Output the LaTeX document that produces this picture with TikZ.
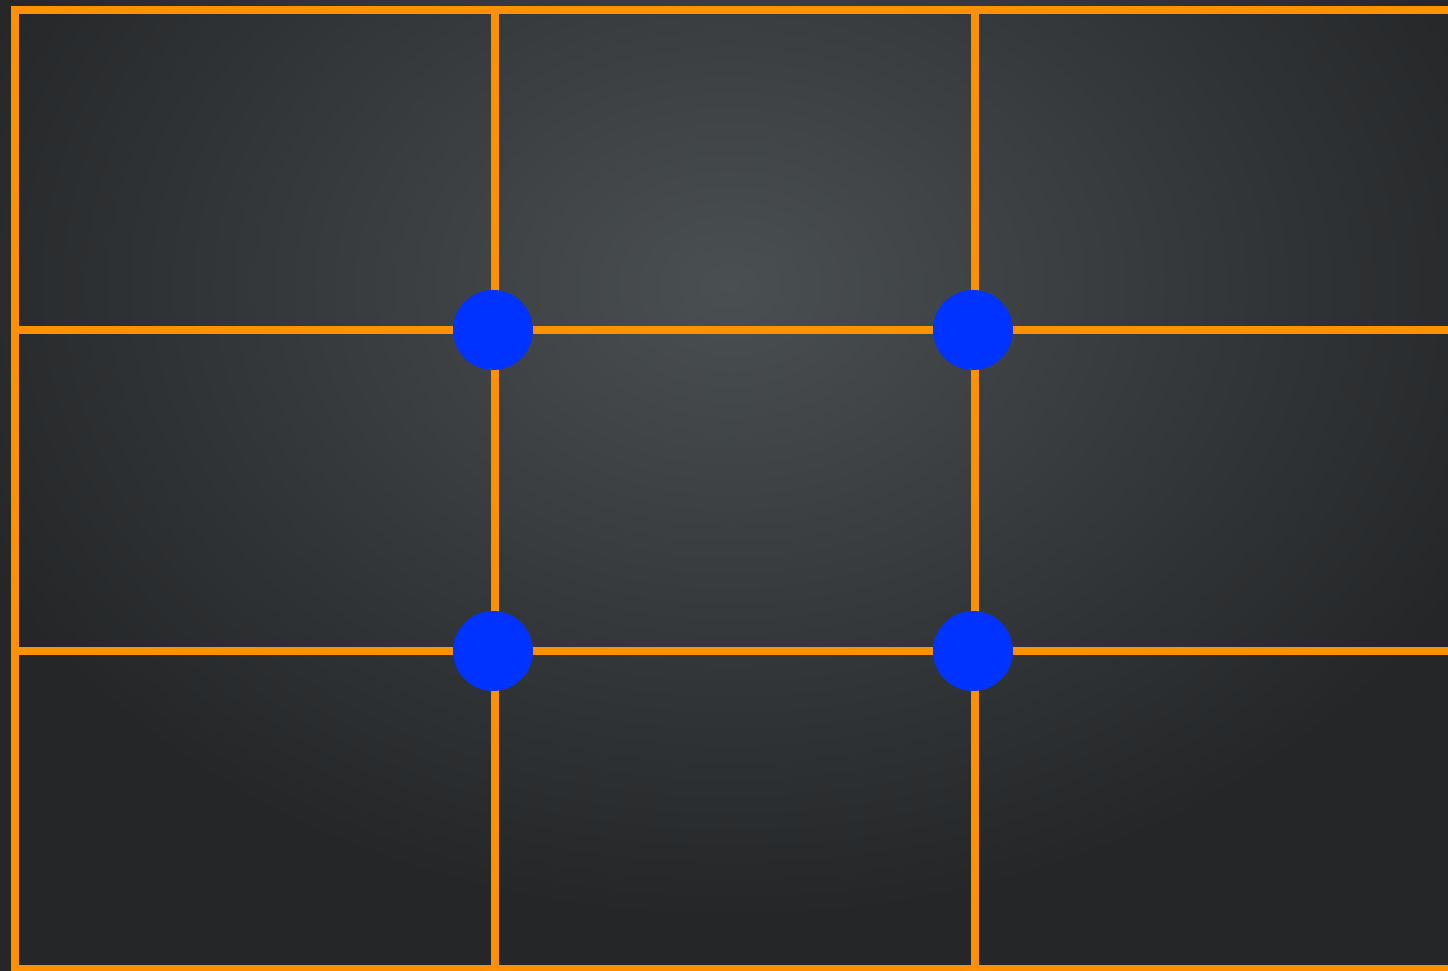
\documentclass[tikz,border=0pt]{standalone}
\usepackage{tikz}
\usetikzlibrary{positioning}
\definecolor{cfondo}{RGB}{36,38,40}
\definecolor{cfondoclaro}{RGB}{74,79,81}
\definecolor{cgrid}{RGB}{255,145,0}
\definecolor{cpunto}{RGB}{0,51,255}

\begin{document}
\begin{tikzpicture}[
    gridline/.style={draw=cgrid, line width=0.8mm},
    puntofuerte/.style={circle, fill=cpunto, minimum size=8mm, inner sep=0pt}]

  % --- Fondo ---
  \useasboundingbox (0,0) rectangle (14.48,9.71);
  \clip (0,0) rectangle (14.48,9.71);
  \fill[cfondo] (0,0) rectangle (14.48,9.71);
  \shade[inner color=cfondoclaro, outer color=cfondo] (-1,0.5) rectangle (15.6,13.2);

  % --- Tercios ---
  \coordinate (tl) at (0.15,9.61);
  \coordinate (tr) at (14.60,9.61);
  \coordinate (bl) at (0.15,0.02);
  \coordinate (br) at (14.60,0.02);
  \coordinate (h1l) at (0.15,6.41);
  \coordinate (h1r) at (14.60,6.41);
  \coordinate (h2l) at (0.15,3.20);
  \coordinate (h2r) at (14.60,3.20);
  \coordinate (v1t) at (4.95,9.61);
  \coordinate (v1b) at (4.95,-0.10);
  \coordinate (v2t) at (9.75,9.61);
  \coordinate (v2b) at (9.75,-0.10);

  \draw[gridline] (tr) -- (tl) -- ([yshift=-1mm]bl);
  \draw[gridline] (bl) -- (br);
  \draw[gridline] (h1l) -- (h1r);
  \draw[gridline] (h2l) -- (h2r);
  \draw[gridline] (v1t) -- (v1b);
  \draw[gridline] (v2t) -- (v2b);

  % --- Puntos de interés ---
  \node[puntofuerte] (p11) at (4.93,6.41) {};
  \node[puntofuerte] (p12) at (9.73,6.41) {};
  \node[puntofuerte] (p21) at (4.93,3.20) {};
  \node[puntofuerte] (p22) at (9.73,3.20) {};
\end{tikzpicture}
\end{document}
